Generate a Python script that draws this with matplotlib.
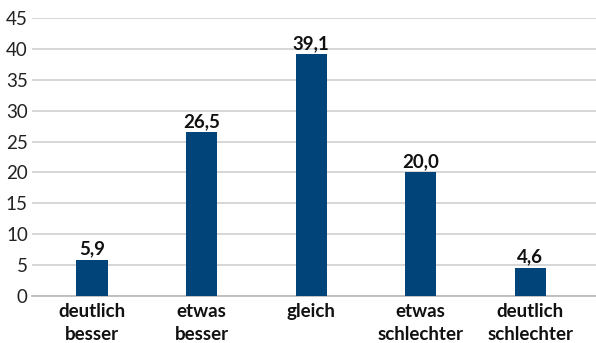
import matplotlib
matplotlib.use("Agg")
import matplotlib.pyplot as plt

categories = ["deutlich\nbesser", "etwas\nbesser", "gleich", "etwas\nschlechter", "deutlich\nschlechter"]
values = [5.9, 26.5, 39.1, 20.0, 4.6]
yticks = [0, 5, 10, 15, 20, 25, 30, 35, 40, 45]

plt.rcParams['font.family'] = ['Lato', 'DejaVu Sans']

fig = plt.figure(figsize=(5.96, 3.43), dpi=100)
ax = fig.add_axes([32/596, 47/343, (596-32)/596, 278/343])

x = list(range(len(categories)))
ax.bar(x, values, width=0.285, color="#00447a", zorder=3)

for xi, v in zip(x, values):
    ax.annotate(f"{v:.1f}".replace(".", ","), (xi, v), xytext=(0, 1.5),
                textcoords="offset points", ha="center", va="bottom",
                fontsize=13.5, fontweight="bold", color="#111111")

ax.set_xlim(-0.548, 4.60)
ax.set_ylim(0, 45)
ax.set_yticks(yticks)
ax.set_yticklabels([str(t) for t in yticks], fontsize=13.5, color="#222222")
ax.set_xticks(x)
ax.set_xticklabels(categories, fontsize=13.5, fontweight="bold", color="#111111",
                   linespacing=1.4)
ax.tick_params(axis="y", length=0, pad=3)
ax.tick_params(axis="x", length=0, pad=5)

ax.grid(axis="y", color="#d3d3d3", linewidth=1.3, zorder=0)
for s in ["top", "right", "left"]:
    ax.spines[s].set_visible(False)
ax.spines["bottom"].set_color("#bcbcbc")
ax.spines["bottom"].set_linewidth(1.3)

fig.savefig("out.png", dpi=100)
